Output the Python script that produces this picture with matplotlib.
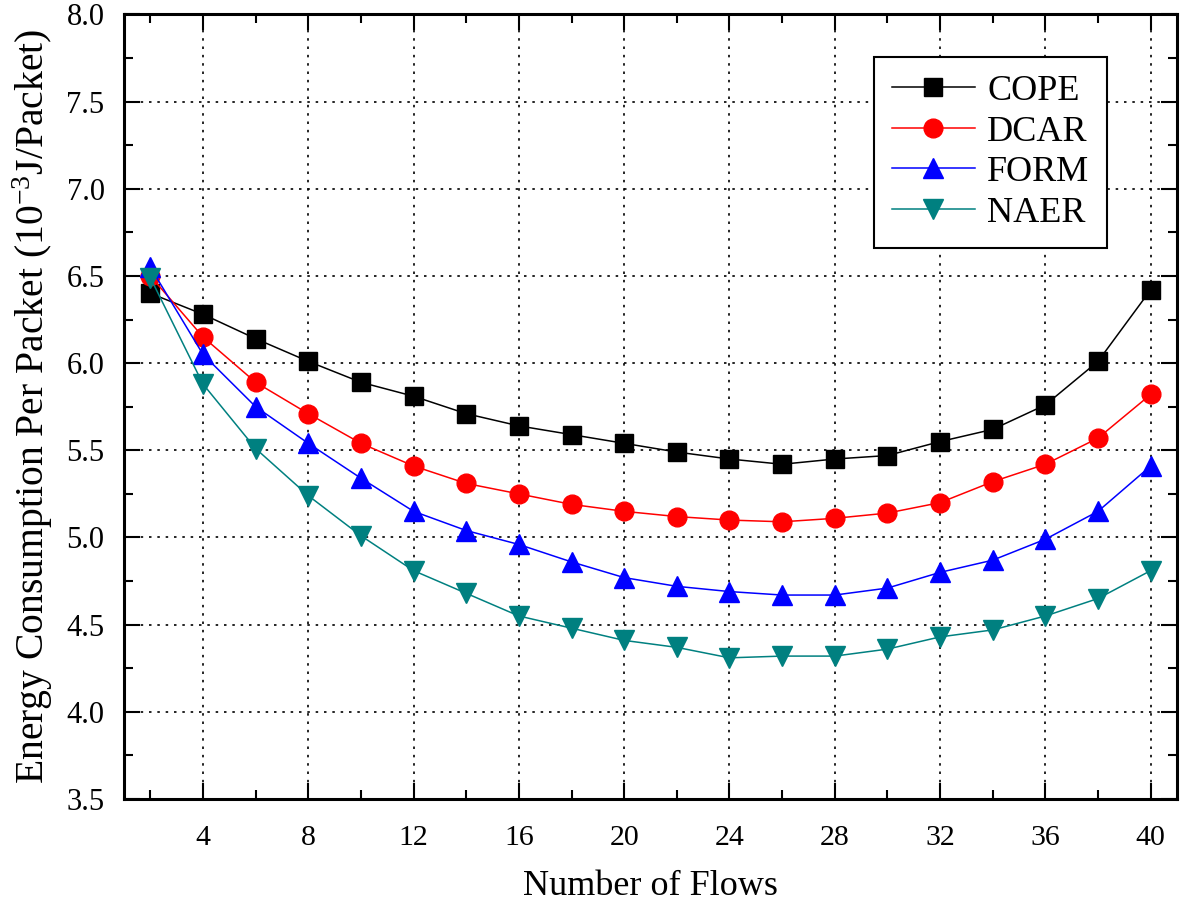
import numpy as np
import matplotlib
matplotlib.use("Agg")
import matplotlib.pyplot as plt
from matplotlib.ticker import MultipleLocator, FormatStrFormatter

plt.rcParams['font.family'] = ['Liberation Serif', 'DejaVu Serif']
plt.rcParams['mathtext.default'] = 'regular'

# datos
flujos = [2, 4, 6, 8, 10, 12, 14, 16, 18, 20, 22, 24, 26, 28, 30, 32, 34, 36, 38, 40]
cope = [6.40, 6.28, 6.14, 6.01, 5.89, 5.81, 5.71, 5.64, 5.59, 5.54,
        5.49, 5.45, 5.42, 5.45, 5.47, 5.55, 5.62, 5.76, 6.01, 6.42]
dcar = [6.50, 6.15, 5.89, 5.71, 5.54, 5.41, 5.31, 5.25, 5.19, 5.15,
        5.12, 5.10, 5.09, 5.11, 5.14, 5.20, 5.32, 5.42, 5.57, 5.82]
form = [6.55, 6.05, 5.75, 5.54, 5.34, 5.15, 5.04, 4.96, 4.86, 4.77,
        4.72, 4.69, 4.67, 4.67, 4.71, 4.80, 4.87, 4.99, 5.15, 5.41]
naer = [6.49, 5.88, 5.51, 5.24, 5.01, 4.81, 4.68, 4.55, 4.48, 4.41,
        4.37, 4.31, 4.32, 4.32, 4.36, 4.43, 4.47, 4.55, 4.65, 4.81]

series = [("COPE", cope, "black", "s", 12.5),
          ("DCAR", dcar, "#ff0000", "o", 13.5),
          ("FORM", form, "#0000ff", "^", 14.5),
          ("NAER", naer, "#008080", "v", 14.5)]

fig = plt.figure(figsize=(11.81, 9.06), dpi=100)
ax = fig.add_axes([0.105, 0.118, 0.8916, 0.8662])

for nombre, valores, color, marca, tam in series:
    ax.plot(flujos, valores, color=color, marker=marca, markersize=tam,
            linewidth=1.1, label=nombre, markeredgecolor=color)

ax.set_xlim(1, 41)
ax.set_ylim(3.5, 8.0)
ax.xaxis.set_major_locator(MultipleLocator(4))
ax.xaxis.set_minor_locator(MultipleLocator(2))
ax.yaxis.set_major_locator(MultipleLocator(0.5))
ax.yaxis.set_minor_locator(MultipleLocator(0.25))
ax.yaxis.set_major_formatter(FormatStrFormatter('%.1f'))
ax.set_xticks([4, 8, 12, 16, 20, 24, 28, 32, 36, 40])

ax.tick_params(which='both', direction='in', top=True, right=True)
ax.tick_params(which='major', length=11.5, width=1.5)
ax.tick_params(which='minor', length=6.5, width=1.5)
ax.tick_params(axis='x', which='major', labelsize=21.5, pad=19)
ax.tick_params(axis='y', which='major', labelsize=22, pad=14)
for s in ax.spines.values():
    s.set_linewidth(2.2)

ax.grid(True, which='major', color='black', linestyle=(0, (1.5, 3.5)), linewidth=1.2)

ax.set_xlabel("Number of Flows", fontsize=26, labelpad=13)
ax.set_ylabel("Energy Consumption Per Packet (10$^{-3}$J/Packet)", fontsize=28.5, labelpad=8)

leg = ax.legend(loc='upper right', bbox_to_anchor=(0.934, 0.946), borderaxespad=0,
                fontsize=26, fancybox=False, framealpha=1, edgecolor='black',
                handlelength=2.3, labelspacing=0.2, borderpad=0.5, handletextpad=0.35)
leg.get_frame().set_linewidth(1.5)

fig.savefig("out.png", dpi=100)
